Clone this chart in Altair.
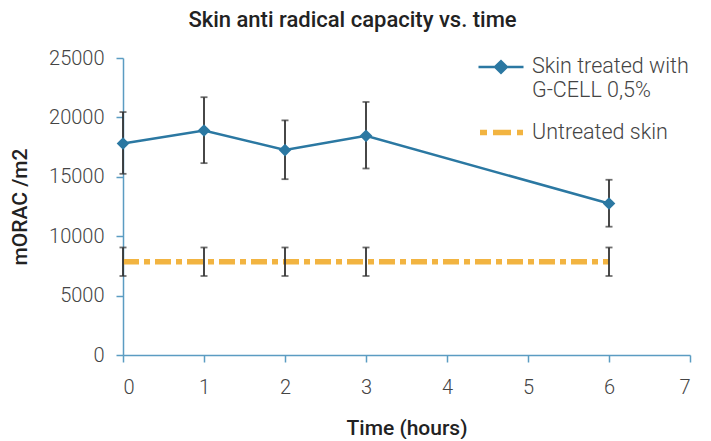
import altair as alt
import pandas as pd

times = [0, 1, 2, 3, 6]
treated_mean = [17800, 18900, 17250, 18450, 12750]
treated_low = [15250, 16150, 14800, 15700, 10800]
treated_high = [20450, 21700, 19750, 21300, 14750]
untreated_mean = [7850, 7850, 7850, 7850, 7850]
untreated_low = [6650, 6650, 6650, 6650, 6650]
untreated_high = [9050, 9050, 9050, 9050, 9050]
TREATED = "Skin treated with|G-CELL 0,5%"
UNTREATED = "Untreated skin"

rows = []
for i, t in enumerate(times):
    rows.append(dict(time=t, value=treated_mean[i], low=treated_low[i], high=treated_high[i], series=TREATED))
    rows.append(dict(time=t, value=untreated_mean[i], low=untreated_low[i], high=untreated_high[i], series=UNTREATED))
df = pd.DataFrame(rows)

BLUE = "#2b78a2"
ORANGE = "#f2b441"
AXIS = "#5b9cc2"
FONT = "Roboto"

x = alt.X("time:Q", scale=alt.Scale(domain=[0, 7], nice=False),
          axis=alt.Axis(values=[0, 1, 2, 3, 4, 5, 6, 7], title="Time (hours)", grid=False,
                        domainColor=AXIS, tickColor=AXIS, domainWidth=1.5, tickWidth=1.5, tickSize=7,
                        labelFont=FONT, labelFontSize=20, labelFontWeight=300, labelColor="#444",
                        labelPadding=15, titleFont=FONT, titleFontSize=21, titleFontWeight=500,
                        titleColor="#222", titlePadding=20))
y = alt.Y("value:Q", scale=alt.Scale(domain=[0, 25000], nice=False),
          axis=alt.Axis(values=[0, 5000, 10000, 15000, 20000, 25000], format="d", title="mORAC /m2",
                        grid=False, domainColor=AXIS, tickColor=AXIS, domainWidth=1.5, tickWidth=1.5,
                        tickSize=7, labelFont=FONT, labelFontSize=20, labelFontWeight=300,
                        labelColor="#444", labelPadding=12, titleFont=FONT, titleFontSize=21,
                        titleFontWeight=500, titleColor="#222", titlePadding=18))

base = alt.Chart(df)

treated_line = base.transform_filter(alt.datum.series == TREATED).mark_line(strokeWidth=2.5).encode(
    x=x, y=y,
    color=alt.Color("series:N", scale=alt.Scale(domain=[TREATED], range=[BLUE]),
                    legend=alt.Legend(title=None, orient="none", legendX=354, legendY=-15, padding=0,
                                      symbolType="M-1,0L1,0M-0.26,0L0,-0.26L0.26,0L0,0.26Z",
                                      symbolSize=2025, symbolStrokeWidth=2.5, symbolFillColor=BLUE,
                                      labelFont=FONT, labelFontSize=21.5, labelFontWeight=300,
                                      labelColor="#444", labelExpr="split(datum.label, '|')",
                                      labelLimit=300, labelOffset=7, labelBaseline="middle")),
)
untreated_line = base.transform_filter(alt.datum.series == UNTREATED).mark_line(
    strokeWidth=5.5, strokeDash=[16, 5, 6, 5]).encode(
    x=x, y=y,
    stroke=alt.Stroke("series:N", scale=alt.Scale(domain=[UNTREATED], range=[ORANGE]),
                      legend=alt.Legend(title=None, orient="none", legendX=354, legendY=50, padding=0,
                                        symbolType="stroke", symbolSize=1849, symbolStrokeWidth=5.5,
                                        symbolDash=[7, 6, 18, 6], labelFont=FONT, labelFontSize=21.5,
                                        labelFontWeight=300, labelColor="#444", labelLimit=300,
                                        labelOffset=6)),
)
points = base.transform_filter(alt.datum.series == TREATED).mark_point(
    shape="diamond", filled=True, size=160, color=BLUE, opacity=1).encode(x=x, y=y)

err = base.mark_rule(color="#333", strokeWidth=1.8).encode(x=x, y="low:Q", y2="high:Q")
cap_lo = base.mark_tick(color="#333", thickness=1.8, size=7, orient="horizontal").encode(x=x, y="low:Q")
cap_hi = base.mark_tick(color="#333", thickness=1.8, size=7, orient="horizontal").encode(x=x, y="high:Q")

chart = alt.layer(untreated_line, treated_line, err, cap_lo, cap_hi, points).properties(
    width=567, height=297,
    title=alt.TitleParams("Skin anti radical capacity vs. time", font=FONT, fontSize=22,
                          fontWeight=500, color="#222", offset=11, dx=-54),
    autosize=alt.AutoSizeParams(type="none"),
    padding={"left": 115, "top": 50, "right": 13, "bottom": 84},
).configure_view(stroke=None)

chart.save("out.html", embed_options={"renderer": "svg", "actions": False})
